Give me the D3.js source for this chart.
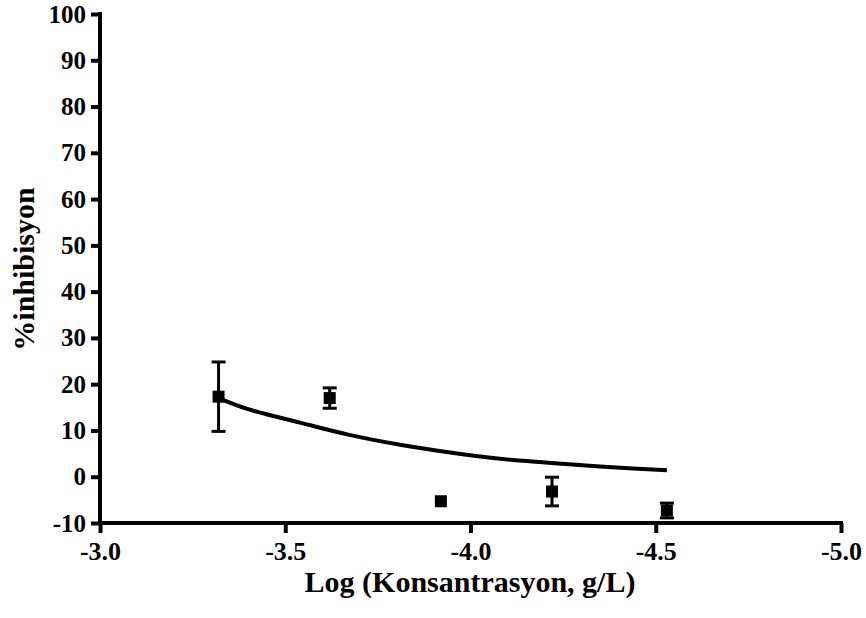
<!DOCTYPE html>
<html>
<head>
<meta charset="utf-8">
<script src="https://cdn.jsdelivr.net/npm/d3@7"></script>
<style>
  body { margin: 0; background: #fff; }
  svg text { font-family: "Liberation Serif", "Times New Roman", serif; font-weight: bold; fill: #000; }
</style>
</head>
<body>
<script>
// measured points (log conc, mean %inhibition, sem)
const logConc = [-3.32, -3.62, -3.92, -4.22, -4.53];
const inhibition = [17.3, 17.0, -5.3, -3.2, -7.3];
const sem = [7.5, 2.2, 0.3, 3.1, 1.6];

// fitted curve
const curveX = [-3.32, -3.40, -3.54, -3.67, -3.81, -3.94, -4.08, -4.21, -4.35, -4.53];
const curveY = [17.0, 14.6, 11.7, 9.1, 6.9, 5.3, 3.9, 3.0, 2.2, 1.4];

const xTicks = [-3.0, -3.5, -4.0, -4.5, -5.0];
const yTicks = [-10, 0, 10, 20, 30, 40, 50, 60, 70, 80, 90, 100];

const W = 866, H = 618;
const plotL = 100, plotR = 841, plotT = 14, plotB = 523;
const sq = 12;

const svg = d3.select("body").append("svg")
    .attr("width", W)
    .attr("height", H);

const x = d3.scaleLinear().domain([-3, -5]).range([plotL, plotR]);
const y = d3.scaleLinear().domain([-10, 100]).range([plotB, plotT]);

// plain hyphen instead of the unicode minus d3 uses
const hy = f => d => f(d).replace("\u2212", "-");

// y axis
const yAxis = svg.append("g")
    .attr("transform", "translate(" + plotL + ",0)")
    .call(d3.axisLeft(y).tickValues(yTicks).tickFormat(hy(d3.format("d"))).tickSize(9).tickPadding(5));
yAxis.select(".domain").attr("stroke-width", 4).attr("d", "M0," + (plotT - 2) + "V" + (plotB + 2));
yAxis.selectAll(".tick line").attr("stroke-width", 4);
yAxis.selectAll(".tick text").style("font-size", "25px");

// x axis
const xAxis = svg.append("g")
    .attr("transform", "translate(0," + plotB + ")")
    .call(d3.axisBottom(x).tickValues(xTicks).tickFormat(hy(d3.format(".1f"))).tickSize(10).tickPadding(9));
xAxis.select(".domain").attr("stroke-width", 4).attr("d", "M" + (plotL - 2) + ",0H" + (plotR + 2));
xAxis.selectAll(".tick line").attr("stroke-width", 4);
xAxis.selectAll(".tick text").style("font-size", "26px");

// titles
svg.append("text")
    .attr("x", 470).attr("y", 592)
    .attr("text-anchor", "middle")
    .style("font-size", "30px")
    .text("Log (Konsantrasyon, g/L)");

svg.append("text")
    .attr("transform", "translate(34,269) rotate(-90)")
    .attr("text-anchor", "middle")
    .style("font-size", "30px")
    .text("%inhibisyon");

// fitted curve
const line = d3.line()
    .x((d, i) => x(curveX[i]))
    .y(d => y(d))
    .curve(d3.curveCatmullRom);

svg.append("path")
    .datum(curveY)
    .attr("d", line)
    .attr("fill", "none")
    .attr("stroke", "#000")
    .attr("stroke-width", 4);

// error bars (skipped when hidden behind the symbol, like prism does)
const pts = logConc.map((v, i) => ({lx: v, m: inhibition[i], e: sem[i]}));
const bars = svg.append("g").attr("stroke", "#000").attr("stroke-width", 3);
pts.filter(p => y(p.m - p.e) - y(p.m) > sq / 2).forEach(p => {
    const cx = x(p.lx);
    bars.append("line").attr("x1", cx).attr("x2", cx).attr("y1", y(p.m + p.e)).attr("y2", y(p.m - p.e));
    bars.append("line").attr("x1", cx - 7).attr("x2", cx + 7).attr("y1", y(p.m + p.e)).attr("y2", y(p.m + p.e));
    bars.append("line").attr("x1", cx - 7).attr("x2", cx + 7).attr("y1", y(p.m - p.e)).attr("y2", y(p.m - p.e));
});

// square markers
svg.append("g").selectAll("rect")
    .data(pts)
    .join("rect")
    .attr("x", d => x(d.lx) - sq / 2)
    .attr("y", d => y(d.m) - sq / 2)
    .attr("width", sq)
    .attr("height", sq)
    .attr("fill", "#000");
</script>
</body>
</html>
